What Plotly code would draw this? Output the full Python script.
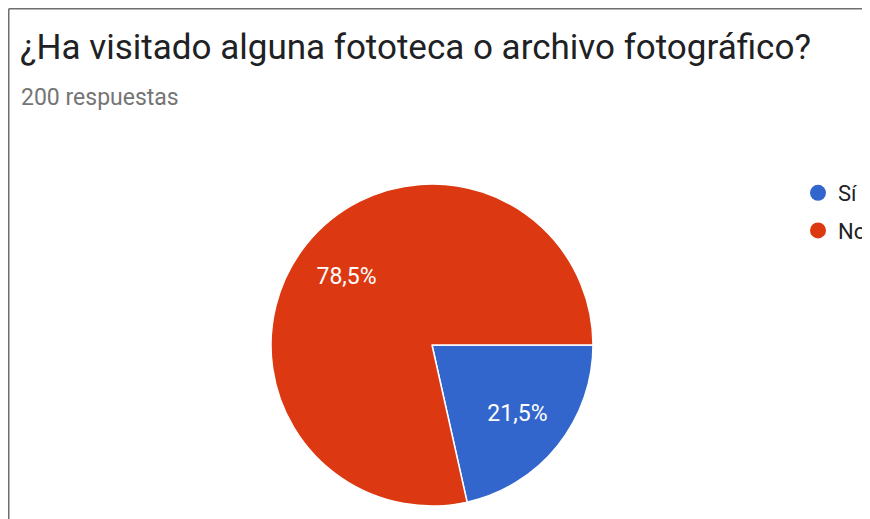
import plotly.graph_objects as go

categories = ["Sí", "No"]
values = [21.5, 78.5]
colors = ["#3366cc", "#dc3912"]
title_text = "¿Ha visitado alguna fototeca o archivo fotográfico?"
subtitle_text = "200 respuestas"

W, H = 870, 519
OFF = 8  # page body margin

def px_x(x):
    return (x - OFF) / W

def px_y(y):
    return 1 - (y - OFF) / H

pie_domain = dict(x=[px_x(271), px_x(593)], y=[px_y(506), px_y(184)])

fig = go.Figure()
fig.add_trace(go.Pie(
    labels=categories,
    values=values,
    marker=dict(colors=colors, line=dict(color="white", width=1.5)),
    sort=False,
    direction="clockwise",
    rotation=90,
    textinfo="none",
    showlegend=False,
    hoverinfo="label+percent",
    domain=pie_domain,
))
# transparent ring carrying the percentage labels (pushes them outward)
fig.add_trace(go.Pie(
    labels=categories,
    values=values,
    hole=0.36,
    marker=dict(colors=["rgba(0,0,0,0)"] * len(categories), line=dict(width=0)),
    sort=False,
    direction="clockwise",
    rotation=90,
    texttemplate="%{value:.1f}%",
    textposition="inside",
    insidetextorientation="horizontal",
    textfont=dict(family="Roboto", size=23, color="white"),
    showlegend=False,
    hoverinfo="skip",
    domain=pie_domain,
))

# legend entries with circle markers
for c, col in zip(categories, colors):
    fig.add_trace(go.Scatter(
        x=[None], y=[None], mode="markers", name=c, legendgroup=c,
        marker=dict(symbol="circle", size=16, color=col),
        showlegend=True,
    ))

fig.update_layout(
    width=W, height=H,
    margin=dict(l=0, r=0, t=0, b=0),
    paper_bgcolor="white", plot_bgcolor="white",
    separators=",.",
    font=dict(family="Roboto", color="#202124"),
    title=dict(text=title_text, x=px_x(20), xref="container", xanchor="left",
               y=px_y(47), yref="container", yanchor="middle",
               font=dict(family="Roboto", size=35, color="#202124")),
    annotations=[dict(text=subtitle_text, x=px_x(19), y=px_y(97), xref="paper", yref="paper",
                      xanchor="left", yanchor="middle", showarrow=False,
                      font=dict(family="Roboto", size=23, color="#757575"))],
    xaxis=dict(visible=False), yaxis=dict(visible=False),
    legend=dict(x=px_x(798), y=px_y(172), xanchor="left", yanchor="top",
                font=dict(family="Roboto", size=22, color="#202124"),
                tracegroupgap=6, itemsizing="trace", bgcolor="rgba(0,0,0,0)"),
    shapes=[
        dict(type="line", xref="paper", yref="paper", x0=0.75 / W, x1=0.75 / W, y0=0, y1=1 - 0.75 / H,
             line=dict(color="#6f6f6f", width=1.5)),
        dict(type="line", xref="paper", yref="paper", x0=0.75 / W, x1=1, y0=1 - 0.75 / H, y1=1 - 0.75 / H,
             line=dict(color="#6f6f6f", width=1.5)),
    ],
)

fig.write_html("out.html")
